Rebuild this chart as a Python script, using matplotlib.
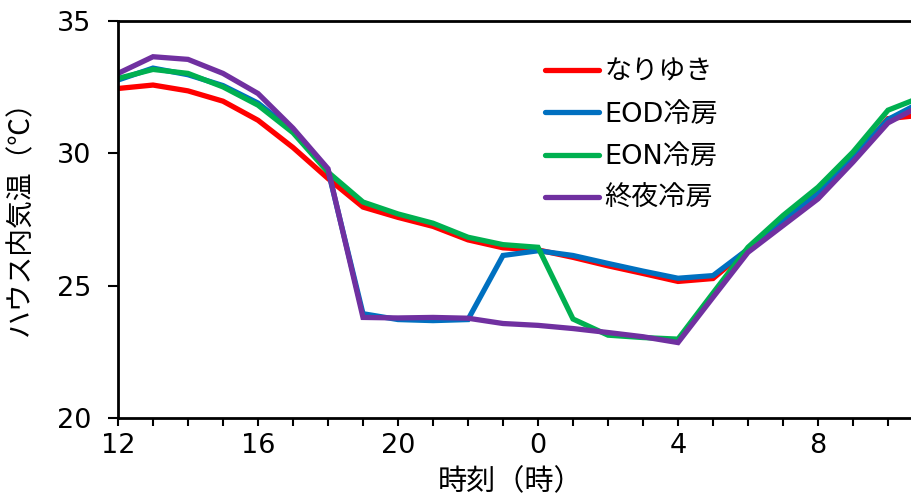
import numpy as np
import matplotlib.pyplot as plt
from matplotlib.ticker import MultipleLocator

plt.rcParams['font.family'] = ['DejaVu Sans', 'Noto Sans CJK JP']

# hourly air temperature inside the greenhouse, from 12:00 to 11:00 next day
hours = [12, 13, 14, 15, 16, 17, 18, 19, 20, 21, 22, 23,
         0, 1, 2, 3, 4, 5, 6, 7, 8, 9, 10, 11]

nariyuki = [32.45, 32.58, 32.36, 31.97, 31.25, 30.22, 29.05, 27.97, 27.58, 27.24, 26.73, 26.43,
            26.35, 26.07, 25.75, 25.46, 25.16, 25.27, 26.38, 27.50, 28.53, 29.80, 31.31, 31.45]
eod = [32.77, 33.22, 32.97, 32.56, 31.90, 30.85, 29.36, 23.94, 23.72, 23.68, 23.72, 26.14,
       26.32, 26.14, 25.84, 25.55, 25.28, 25.38, 26.38, 27.46, 28.47, 29.84, 31.28, 31.97]
eon = [32.83, 33.17, 33.02, 32.51, 31.82, 30.78, 29.29, 28.16, 27.71, 27.36, 26.83, 26.55,
       26.45, 23.74, 23.13, 23.04, 22.98, 24.72, 26.45, 27.65, 28.72, 30.05, 31.63, 32.15]
shuya = [33.02, 33.65, 33.55, 33.02, 32.26, 30.95, 29.42, 23.80, 23.78, 23.80, 23.77, 23.57,
         23.50, 23.38, 23.23, 23.07, 22.85, 24.56, 26.26, 27.27, 28.28, 29.67, 31.15, 31.85]

series = [('なりゆき', nariyuki, '#ff0000'),
          ('EOD冷房', eod, '#0070c0'),
          ('EON冷房', eon, '#00b050'),
          ('終夜冷房', shuya, '#7030a0')]

# continuous x position so the curve runs past midnight
x = np.arange(12, 12 + len(hours))

fig = plt.figure(figsize=(9.12, 4.99), dpi=100)
ax = fig.add_axes([118 / 912, 81 / 499, 840 / 912, 397 / 499])

for name, vals, col in series:
    ax.plot(x, vals, color=col, lw=3.8, label=name,
            solid_joinstyle='miter', solid_capstyle='round')

ax.set_xlim(12, 36)
ax.set_ylim(20, 35)
ax.xaxis.set_minor_locator(MultipleLocator(1))
ax.set_xticks(x[::4])
ax.set_xticklabels([str(h) for h in hours[::4]])
ax.set_yticks([20, 25, 30, 35])

for s in ax.spines.values():
    s.set_linewidth(2)
ax.tick_params(axis='both', which='both', direction='out', width=1.5, labelsize=19.5)
ax.tick_params(axis='x', which='both', length=6, pad=5)
ax.tick_params(axis='y', length=7, pad=12)

ax.set_xlabel('時刻（時）', fontsize=21, family=['Noto Sans CJK JP'])
ax.set_ylabel('ハウス内気温（℃）', fontsize=20, family=['Noto Sans CJK JP'])
ax.xaxis.set_label_coords(0.467, -0.125)
ax.yaxis.set_label_coords(-0.098, 0.52)

ax.legend(loc='upper left', bbox_to_anchor=(0.495, 0.93), frameon=False,
          fontsize=19.5, handlelength=2.0, handletextpad=0.2, labelspacing=0.6,
          borderaxespad=0)

fig.savefig('out.png', dpi=100)
